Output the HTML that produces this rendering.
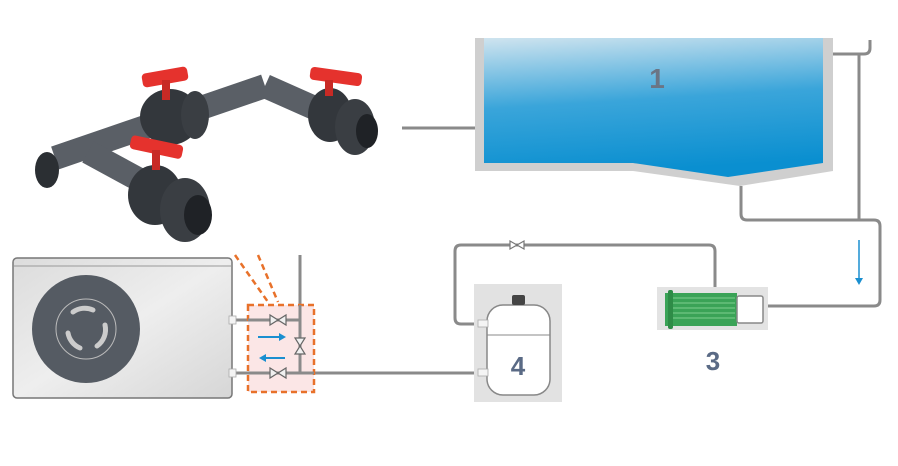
<!DOCTYPE html>
<html><head><style>body{margin:0;background:#fff}svg{display:block}</style></head><body>
<svg width="898" height="466" viewBox="0 0 898 466" xmlns="http://www.w3.org/2000/svg" font-family="Liberation Sans, sans-serif">
<defs>
<linearGradient id="w" x1="0" y1="0" x2="0.15" y2="1"><stop offset="0" stop-color="#cfe4ef"/><stop offset="0.5" stop-color="#3aa5da"/><stop offset="1" stop-color="#0a8fd0"/></linearGradient>
<linearGradient id="hp" x1="0" y1="0" x2="1" y2="1"><stop offset="0" stop-color="#dcdcdc"/><stop offset="0.5" stop-color="#eeeeee"/><stop offset="1" stop-color="#d6d6d6"/></linearGradient>
</defs>
<polygon points="475,38 833,38 833,171 740,186 633,171 475,171" fill="#cfcfcf"/>
<polygon points="484,38 823,38 823,163 728,177 633,163 484,163" fill="url(#w)"/>
<text x="657" y="88" font-size="28" font-weight="bold" fill="#6b7585" text-anchor="middle">1</text>
<g fill="none" stroke="#8a8a8a" stroke-width="3">
<line x1="402" y1="128" x2="475" y2="128"/>
<path d="M833,54 H864 Q870,54 870,48 V40"/>
<line x1="859" y1="54" x2="859" y2="220"/>
<path d="M741,186 V214 Q741,220 747,220 H874 Q880,220 880,226 V300 Q880,306 874,306 H763"/>
<path d="M715,292 V251 Q715,245 709,245 H461 Q455,245 455,251 V318 Q455,324 461,324 H488"/>
<line x1="300" y1="373" x2="488" y2="373"/>
<line x1="300" y1="255" x2="300" y2="373"/>
<line x1="232" y1="320" x2="300" y2="320"/>
<line x1="232" y1="373" x2="300" y2="373"/>
</g>
<path d="M859,240 V280" stroke="#1a8fd0" stroke-width="1.5"/><path d="M855,278 L863,278 L859,285Z" fill="#1a8fd0"/>
<path d="M510,241 L510,249 L524,241 L524,249Z" fill="#fff" stroke="#777" stroke-width="1.2"/>
<rect x="657" y="287" width="111" height="43" fill="#e3e3e3"/>
<rect x="665" y="293" width="72" height="33" fill="#3aa357"/>
<g stroke="#7fcf8f" stroke-width="1"><line x1="672" y1="298" x2="735" y2="298"/><line x1="672" y1="303" x2="735" y2="303"/><line x1="672" y1="308" x2="735" y2="308"/><line x1="672" y1="313" x2="735" y2="313"/><line x1="672" y1="318" x2="735" y2="318"/></g>
<rect x="668" y="290" width="5" height="39" fill="#2e8c47" rx="2"/>
<rect x="737" y="296" width="26" height="27" fill="#fff" stroke="#888" stroke-width="1.5" rx="2"/>
<text x="713" y="370" font-size="26" font-weight="bold" fill="#5a6a85" text-anchor="middle">3</text>
<rect x="474" y="284" width="88" height="118" fill="#e2e2e2"/>
<rect x="487" y="305" width="63" height="90" rx="16" fill="#fff" stroke="#888" stroke-width="1.5"/>
<line x1="487" y1="335" x2="550" y2="335" stroke="#888" stroke-width="1"/>
<rect x="512" y="295" width="13" height="10" fill="#444" rx="2"/>
<rect x="478" y="320" width="10" height="7" fill="#f4f4f4" stroke="#aaa" stroke-width="0.8"/>
<rect x="478" y="369" width="10" height="7" fill="#f4f4f4" stroke="#aaa" stroke-width="0.8"/>
<text x="518" y="375" font-size="26" font-weight="bold" fill="#5a6a85" text-anchor="middle">4</text>
<rect x="13" y="258" width="219" height="140" rx="4" fill="url(#hp)" stroke="#777" stroke-width="1.5"/>
<line x1="14" y1="266" x2="231" y2="266" stroke="#999" stroke-width="1"/>
<circle cx="86" cy="329" r="54" fill="#555b63"/>
<circle cx="86" cy="329" r="30" fill="none" stroke="#bbb" stroke-width="1"/>
<g fill="none" stroke="#ccc" stroke-width="5" stroke-linecap="round"><path d="M73,312 A20,20 0 0 1 93,310"/><path d="M105,325 A20,20 0 0 1 97,346"/><path d="M80,348 A20,20 0 0 1 68,333"/></g>
<rect x="229" y="316" width="7" height="8" fill="#f4f4f4" stroke="#aaa" stroke-width="0.8"/>
<rect x="229" y="369" width="7" height="8" fill="#f4f4f4" stroke="#aaa" stroke-width="0.8"/>
<rect x="248" y="305" width="66" height="87" fill="#fbe6e6" stroke="#e8712a" stroke-width="2.5" stroke-dasharray="6,4"/>
<g fill="none" stroke="#8a8a8a" stroke-width="3"><line x1="248" y1="320" x2="300" y2="320"/><line x1="248" y1="373" x2="314" y2="373"/><line x1="300" y1="305" x2="300" y2="373"/></g>
<path d="M235,255 L268,302 M258,255 L278,302" stroke="#e8712a" stroke-width="2.5" stroke-dasharray="6,4"/>
<g fill="#f0f0f0" stroke="#666" stroke-width="1.2">
<path d="M270,315 L270,325 L286,315 L286,325Z"/><path d="M270,368 L270,378 L286,368 L286,378Z"/><path d="M295,338 L305,338 L295,354 L305,354Z"/></g>
<path d="M258,337 H280" stroke="#1a8fd0" stroke-width="2"/><path d="M279,333 L286,337 L279,341Z" fill="#1a8fd0"/>
<path d="M265,358 H285" stroke="#1a8fd0" stroke-width="2"/><path d="M266,354 L259,358 L266,362Z" fill="#1a8fd0"/>
<g stroke-linecap="butt" fill="none">
<line x1="55" y1="158" x2="265" y2="86" stroke="#5a5f66" stroke-width="24"/>
<line x1="265" y1="86" x2="355" y2="126" stroke="#5a5f66" stroke-width="24"/>
<line x1="88" y1="152" x2="195" y2="210" stroke="#5a5f66" stroke-width="24"/>
</g>
<ellipse cx="47" cy="170" rx="12" ry="18" fill="#2b2f33"/>
<ellipse cx="170" cy="117" rx="30" ry="28" fill="#33373c"/>
<ellipse cx="195" cy="115" rx="14" ry="24" fill="#3a3e43"/>
<ellipse cx="330" cy="115" rx="22" ry="27" fill="#33373c"/>
<ellipse cx="355" cy="127" rx="20" ry="28" fill="#3a3e43"/>
<ellipse cx="367" cy="131" rx="11" ry="17" fill="#1f2226"/>
<ellipse cx="155" cy="195" rx="27" ry="30" fill="#33373c"/>
<ellipse cx="185" cy="210" rx="25" ry="32" fill="#3a3e43"/>
<ellipse cx="198" cy="215" rx="14" ry="20" fill="#1f2226"/>
<rect x="142" y="70" width="46" height="14" rx="4" fill="#e5322d" transform="rotate(-10 165 77)"/>
<rect x="162" y="80" width="8" height="20" fill="#c82a25"/>
<rect x="310" y="70" width="52" height="13" rx="4" fill="#e5322d" transform="rotate(8 336 76)"/>
<rect x="325" y="80" width="8" height="16" fill="#c82a25"/>
<rect x="130" y="140" width="53" height="14" rx="4" fill="#e5322d" transform="rotate(12 156 147)"/>
<rect x="152" y="150" width="8" height="20" fill="#c82a25"/>
</svg>
</body></html>
